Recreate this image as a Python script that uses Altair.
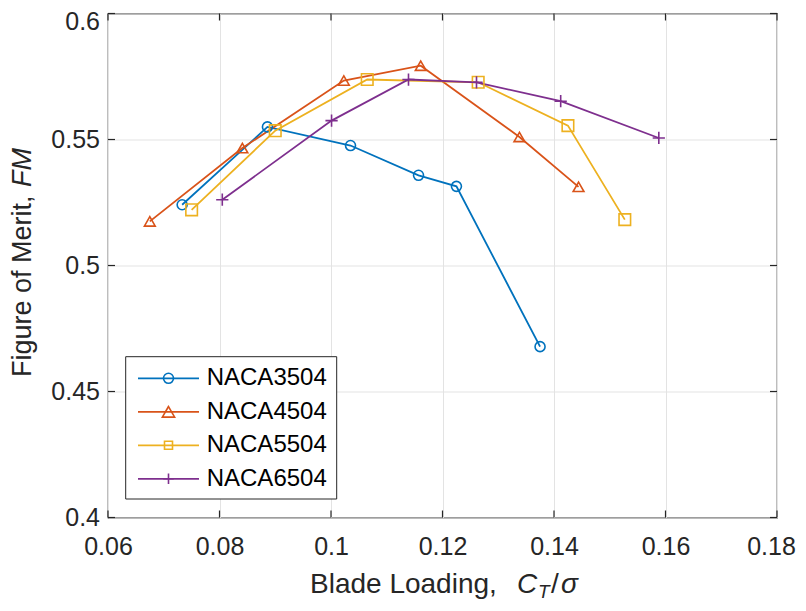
import altair as alt
import pandas as pd

# ---------------- data ----------------
names = ["NACA3504", "NACA4504", "NACA5504", "NACA6504"]

ct_3504 = [0.0733, 0.0886, 0.1035, 0.1157, 0.1225, 0.1375]
fm_3504 = [0.5241, 0.5550, 0.5476, 0.5358, 0.5314, 0.4678]

ct_4504 = [0.0675, 0.0841, 0.1023, 0.1161, 0.1338, 0.1444]
fm_4504 = [0.5175, 0.5466, 0.5734, 0.5793, 0.5510, 0.5312]

ct_5504 = [0.0750, 0.0900, 0.1065, 0.1264, 0.1425, 0.1527]
fm_5504 = [0.5221, 0.5535, 0.5738, 0.5727, 0.5555, 0.5182]

ct_6504 = [0.0805, 0.1001, 0.1139, 0.1261, 0.1412, 0.1588]
fm_6504 = [0.5261, 0.5575, 0.5738, 0.5727, 0.5652, 0.5506]

xticks = [0.06, 0.08, 0.10, 0.12, 0.14, 0.16, 0.18]
yticks = [0.40, 0.45, 0.50, 0.55, 0.60]

colors = ["#0072BD", "#D95319", "#EDB120", "#7E2F8E"]
shapes = ["circle", "triangle-up", "square", "M-1,0H1M0,-1V1"]
msizes = [100, 150, 64, 110]

rows = []
for name, cts, fms in zip(names, [ct_3504, ct_4504, ct_5504, ct_6504],
                          [fm_3504, fm_4504, fm_5504, fm_6504]):
    for i, (c, f) in enumerate(zip(cts, fms)):
        rows.append({"series": name, "ct": c, "fm": f, "i": i})
df = pd.DataFrame(rows)

FONT = "Liberation Sans"
DARK = "#262626"
W, H = 669, 504

xscale = alt.Scale(domain=[0.06, 0.18], nice=False, zero=False)
yscale = alt.Scale(domain=[0.4, 0.6], nice=False, zero=False)

xaxis = alt.Axis(values=xticks, format=".2~f", grid=True, ticks=False, tickSize=0,
                 domain=False, labelPadding=17, labelFontSize=25, labelFont=FONT,
                 labelColor=DARK, gridColor="#e3e3e3", gridWidth=1,
                 labelFlush=False, labelOverlap=False,
                 labelOffset={"condition": {"test": "datum.value > 0.179", "value": -6},
                              "value": 0})
yaxis = alt.Axis(values=yticks, format=".2~f", grid=True, ticks=False, tickSize=0,
                 domain=False, labelPadding=8.5, labelFontSize=25, labelFont=FONT,
                 labelColor=DARK, gridColor="#e3e3e3", gridWidth=1,
                 labelFlush=False, labelOverlap=False,
                 labelOffset={"condition": {"test": "datum.value > 0.599", "value": 7.5},
                              "value": 0})


def X(field):
    return alt.X(field, type="quantitative", scale=xscale, axis=xaxis, title=None)


def Y(field):
    return alt.Y(field, type="quantitative", scale=yscale, axis=yaxis, title=None)


color = alt.Color("series:N", scale=alt.Scale(domain=names, range=colors), legend=None)

lines = alt.Chart(df).mark_line(strokeWidth=1.8).encode(
    x=X("ct"), y=Y("fm"), color=color, order="i:Q")

points = alt.Chart(df).mark_point(filled=False, strokeWidth=1.6, opacity=1).encode(
    x=X("ct"), y=Y("fm"), color=color,
    shape=alt.Shape("series:N", scale=alt.Scale(domain=names, range=shapes), legend=None),
    size=alt.Size("series:N", scale=alt.Scale(domain=names, range=msizes), legend=None))

# inward ticks on all four sides
xt = pd.DataFrame({"v": xticks})
yt = pd.DataFrame({"v": yticks})
TL = 7
tick_style = dict(color=DARK, strokeWidth=1.2)
xt_bot = alt.Chart(xt).mark_rule(**tick_style).encode(
    x=X("v"), y=alt.value(H), y2=alt.value(H - TL))
xt_top = alt.Chart(xt).mark_rule(**tick_style).encode(
    x=X("v"), y=alt.value(0), y2=alt.value(TL))
yt_left = alt.Chart(yt).mark_rule(**tick_style).encode(
    y=Y("v"), x=alt.value(0), x2=alt.value(TL))
yt_right = alt.Chart(yt).mark_rule(**tick_style).encode(
    y=Y("v"), x=alt.value(W), x2=alt.value(W - TL))

one = pd.DataFrame({"a": [1]})

# legend box
legend_layers = [
    alt.Chart(one).mark_rect(fill="white", stroke=DARK, strokeWidth=1).encode(
        x=alt.value(17.7), x2=alt.value(228.7), y=alt.value(343.2), y2=alt.value(485.5))
]
for k, name in enumerate(names):
    ly = 364.8 + k * 33.5
    legend_layers.append(alt.Chart(one).mark_rule(color=colors[k], strokeWidth=1.8).encode(
        x=alt.value(30), x2=alt.value(91), y=alt.value(ly)))
    legend_layers.append(alt.Chart(one).mark_point(
        shape=shapes[k], filled=False, color=colors[k], size=msizes[k],
        strokeWidth=1.6, opacity=1).encode(x=alt.value(60.5), y=alt.value(ly)))
    legend_layers.append(alt.Chart(one).mark_text(
        align="left", baseline="middle", fontSize=24, font=FONT, color="#000000").encode(
        x=alt.value(98.7), y=alt.value(ly), text=alt.value(name)))


# axis titles (mixed regular / italic text)
def txt(s, x, y, size=27, italic=False, angle=0):
    kw = dict(align="left", baseline="alphabetic", fontSize=size, font=FONT, color=DARK)
    if italic:
        kw["fontStyle"] = "italic"
    if angle:
        kw["angle"] = angle
    return alt.Chart(one).mark_text(**kw).encode(
        x=alt.value(x), y=alt.value(y), text=alt.value(s))


title_layers = [
    txt("Blade Loading,", 202, 579.5, size=28),
    txt("C", 409, 579.5, size=28, italic=True),
    txt("T", 430, 584, size=19, italic=True),
    txt("/", 443, 579.5, size=28),
    txt("σ", 453, 579.5, size=28, italic=True),
    txt("Figure of Merit,", -77, 363.5, angle=270),
    txt("FM", -77, 173.5, italic=True, angle=270),
]

chart = alt.layer(
    lines, points, xt_bot, xt_top, yt_left, yt_right, *legend_layers, *title_layers
).properties(
    width=W, height=H,
    autosize=alt.AutoSizeParams(type="none"),
    padding={"left": 100, "top": 5.5, "right": 21, "bottom": 85},
).configure_view(stroke=DARK, strokeWidth=1.2)

chart.save("out.html", embed_options={"renderer": "svg", "actions": False})
